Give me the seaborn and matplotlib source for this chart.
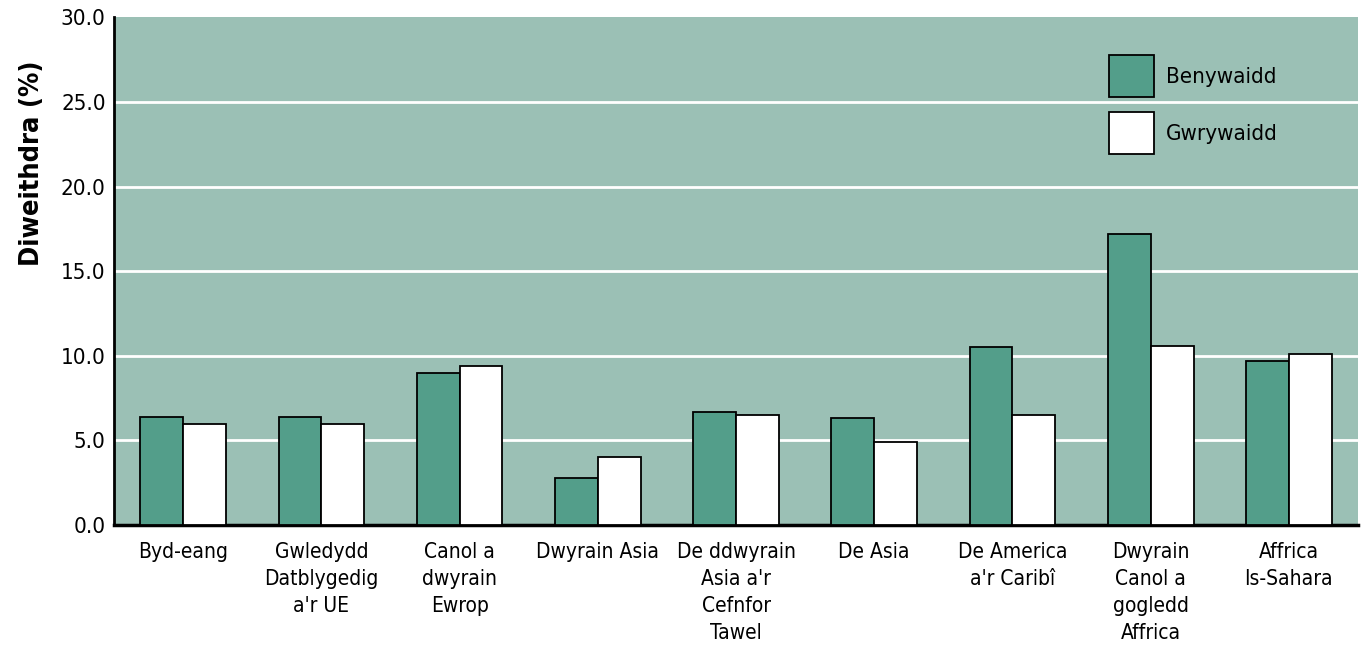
import pandas as pd
import matplotlib.pyplot as plt
import seaborn as sns

# data
regions = ["Byd-eang", "Gwledydd\nDatblygedig\na'r UE", "Canol a\ndwyrain\nEwrop",
           "Dwyrain Asia", "De ddwyrain\nAsia a'r\nCefnfor\nTawel", "De Asia",
           "De America\na'r Caribî", "Dwyrain\nCanol a\ngogledd\nAffrica", "Affrica\nIs-Sahara"]
female = [6.4, 6.4, 9.0, 2.8, 6.7, 6.3, 10.5, 17.2, 9.7]
male = [6.0, 6.0, 9.4, 4.0, 6.5, 4.9, 6.5, 10.6, 10.1]
series = ["Benywaidd", "Gwrywaidd"]
yticks = [0, 5, 10, 15, 20, 25, 30]

df = pd.DataFrame({
    "region": regions * 2,
    "rate": female + male,
    "sex": [series[0]] * len(regions) + [series[1]] * len(regions),
})

sns.set_style("white")
plt.rcParams["font.family"] = ["DejaVu Sans"]
plt.rcParams["font.stretch"] = "condensed"
plt.rcParams["text.color"] = "black"
plt.rcParams["xtick.color"] = "black"
plt.rcParams["ytick.color"] = "black"
plt.rcParams["axes.labelcolor"] = "black"

fig = plt.figure(figsize=(13.61, 6.63), dpi=100)
ax = fig.add_axes([0.0838, 0.208, 0.914, 0.766])
ax.set_facecolor("#9bc0b5")

sns.barplot(data=df, x="region", y="rate", hue="sex", order=regions,
            palette={"Benywaidd": "#539e8a", "Gwrywaidd": "#ffffff"},
            saturation=1, width=0.62, edgecolor="black", linewidth=1.3,
            ax=ax, zorder=3)

ax.set_ylim(0, 30)
ax.set_xlim(-0.5, len(regions) - 0.5)
ax.set_yticks(yticks)
ax.set_yticklabels([f"{v:.1f}" for v in yticks], fontsize=16)
ax.tick_params(axis="x", length=0, pad=12)
ax.tick_params(axis="y", length=0, pad=6)
for lbl in ax.get_xticklabels():
    lbl.set_fontsize(15)
    lbl.set_linespacing(1.45)
for v in yticks[1:-1]:
    ax.axhline(v, color="white", lw=2, zorder=1)

ax.set_xlabel("")
ax.set_ylabel("Diweithdra (%)", fontsize=19.5, fontweight="bold")
ax.yaxis.set_label_coords(-0.0555, 0.713)

for s in ["top", "right"]:
    ax.spines[s].set_visible(False)
ax.spines["left"].set_color("black")
ax.spines["left"].set_linewidth(2)
ax.spines["bottom"].set_color("black")
ax.spines["bottom"].set_linewidth(2.5)

ax.legend(loc="upper left", bbox_to_anchor=(0.784, 0.965), frameon=False,
          fontsize=16, handlelength=2.0, handleheight=2.5, labelspacing=0.7,
          handletextpad=0.55)

fig.savefig("out.png", dpi=100)
